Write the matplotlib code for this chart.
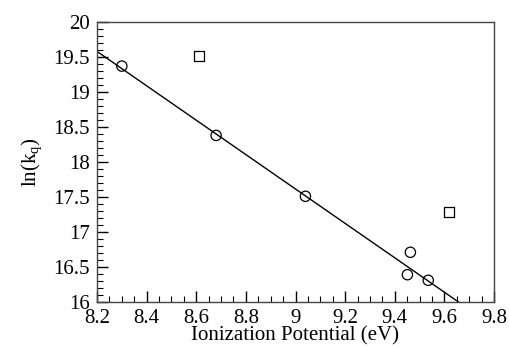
import matplotlib.pyplot as plt
from matplotlib.ticker import MultipleLocator

# circles: measured points
ip_circ = [8.30, 8.68, 9.04, 9.463, 9.451, 9.535]
lnk_circ = [19.37, 18.38, 17.51, 16.71, 16.39, 16.31]
# squares: outliers
ip_sq = [8.61, 9.62]
lnk_sq = [19.52, 17.28]
# fitted line endpoints
fit_x = [8.2, 9.657]
fit_y = [19.58, 16.0]

plt.rcParams['font.family'] = ['Liberation Serif', 'DejaVu Serif']

fig = plt.figure(figsize=(5.1, 3.48), dpi=100)
ax = fig.add_axes([97/510, 1 - 302/348, 397/510, 280/348])

ax.plot(fit_x, fit_y, color="black", lw=1.0)
ax.scatter(ip_circ, lnk_circ, s=55, facecolors="none", edgecolors="black",
           linewidths=0.9, marker="o", zorder=3)
ax.scatter(ip_sq, lnk_sq, s=50, facecolors="none", edgecolors="black",
           linewidths=0.9, marker="s", zorder=3)

ax.set_xlim(8.2, 9.8)
ax.set_ylim(16, 20)
ax.xaxis.set_major_locator(MultipleLocator(0.2))
ax.xaxis.set_minor_locator(MultipleLocator(0.05))
ax.yaxis.set_major_locator(MultipleLocator(0.5))
ax.yaxis.set_minor_locator(MultipleLocator(0.1))
ax.xaxis.set_major_formatter(plt.FuncFormatter(lambda v, p: f"{v:g}"))
ax.yaxis.set_major_formatter(plt.FuncFormatter(lambda v, p: f"{v:g}"))

ax.tick_params(which="major", direction="in", length=8, width=1, labelsize=15, pad=5)
ax.tick_params(which="minor", direction="in", length=4, width=0.8)
for s in ax.spines.values():
    s.set_color("#444444")
    s.set_linewidth(1.0)

ax.set_xlabel("Ionization Potential (eV)", fontsize=15, labelpad=-1)
ax.set_ylabel(r"ln(k$_\mathregular{q}$)", fontsize=15, labelpad=6)

fig.savefig("out.png", dpi=100)
